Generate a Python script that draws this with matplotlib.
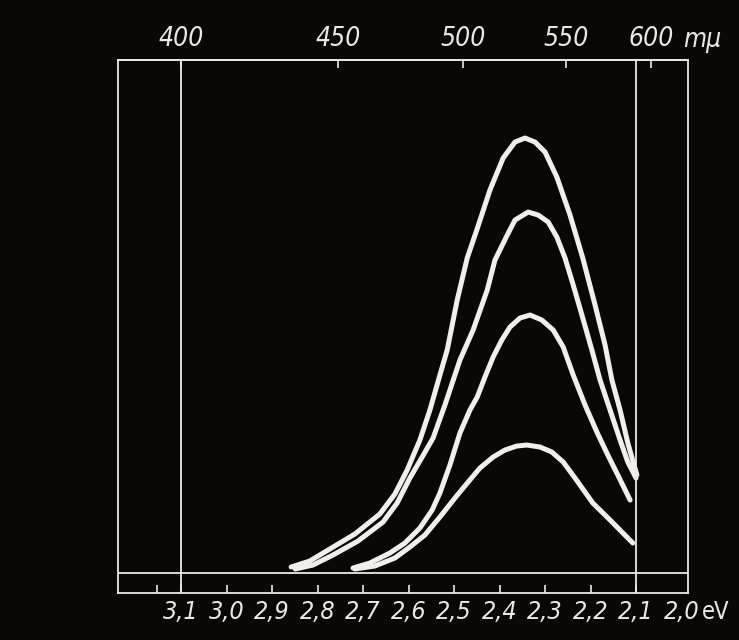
import numpy as np
import matplotlib
matplotlib.use("Agg")
import matplotlib.pyplot as plt

# photon energy (eV) and intensity (arb. units), four emission curves
e1 = [2.858, 2.817, 2.773, 2.718, 2.663, 2.630, 2.603, 2.575, 2.553, 2.531, 2.515,
      2.493, 2.471, 2.450, 2.421, 2.392, 2.366, 2.344, 2.322, 2.300, 2.274, 2.245,
      2.217, 2.190, 2.168, 2.153, 2.135, 2.118, 2.098]
i1 = [0.06, 0.12, 0.24, 0.39, 0.59, 0.79, 1.03, 1.33, 1.63, 1.98, 2.23,
      2.73, 3.15, 3.43, 3.83, 4.15, 4.31, 4.35, 4.31, 4.21, 3.96, 3.58,
      3.15, 2.68, 2.28, 1.93, 1.63, 1.30, 0.98]

e2 = [2.849, 2.810, 2.766, 2.711, 2.656, 2.625, 2.597, 2.570, 2.546, 2.520, 2.498,
      2.487, 2.458, 2.427, 2.410, 2.383, 2.366, 2.337, 2.315, 2.293, 2.274, 2.256,
      2.238, 2.217, 2.197, 2.179, 2.157, 2.135, 2.118, 2.100]
i2 = [0.04, 0.08, 0.18, 0.32, 0.51, 0.70, 0.95, 1.16, 1.35, 1.68, 1.98,
      2.13, 2.43, 2.83, 3.13, 3.38, 3.53, 3.61, 3.58, 3.51, 3.36, 3.15,
      2.88, 2.55, 2.23, 1.93, 1.63, 1.33, 1.11, 0.95]

e3 = [2.722, 2.685, 2.641, 2.608, 2.575, 2.548, 2.531, 2.509, 2.487, 2.465, 2.449,
      2.432, 2.414, 2.395, 2.377, 2.355, 2.333, 2.307, 2.282, 2.260, 2.238, 2.212,
      2.186, 2.162, 2.140, 2.113]
i3 = [0.05, 0.10, 0.20, 0.30, 0.45, 0.63, 0.80, 1.08, 1.40, 1.63, 1.76,
      1.96, 2.16, 2.33, 2.46, 2.55, 2.58, 2.53, 2.43, 2.26, 1.98, 1.68,
      1.41, 1.18, 0.98, 0.73]

e4 = [2.718, 2.674, 2.630, 2.597, 2.564, 2.531, 2.498, 2.469, 2.443, 2.414, 2.388,
      2.362, 2.340, 2.311, 2.285, 2.260, 2.234, 2.195, 2.157, 2.131, 2.107]
i4 = [0.04, 0.07, 0.15, 0.26, 0.38, 0.56, 0.75, 0.91, 1.05, 1.16, 1.23,
      1.27, 1.28, 1.26, 1.21, 1.11, 0.95, 0.70, 0.53, 0.41, 0.30]

ev_ticks = [3.1, 3.0, 2.9, 2.8, 2.7, 2.6, 2.5, 2.4, 2.3, 2.2, 2.1]
ev_labels = ["3,1", "3,0", "2,9", "2,8", "2,7", "2,6", "2,5", "2,4", "2,3", "2,2", "2,1"]
nm_ticks = [400, 450, 500, 550, 600]
nm_labels = ["400", "450", "500", "550", "600"]

bg = "#0a0706"
fg = "#ece8e2"
hand = dict(fontstyle="italic", fontstretch="condensed", family="DejaVu Sans")

fig = plt.figure(figsize=(7.39, 6.4), dpi=100, facecolor=bg)
ax = fig.add_axes([0.1597, 0.0734, 0.7713, 0.8328], facecolor=bg)

for e, i in [(e1, i1), (e2, i2), (e3, i3), (e4, i4)]:
    ax.plot(e, i, color="#f2efea", lw=3.6, solid_capstyle="round", solid_joinstyle="round")

ax.axhline(0, color=fg, lw=1.3)
ax.axvline(3.1, color=fg, lw=1.3)
ax.axvline(2.1, color=fg, lw=1.3)

ax.set_xlim(3.2385, 1.9857)
ax.set_ylim(-0.2, 5.13)
ax.set_yticks([])
for s in ax.spines.values():
    s.set_color(fg)
    s.set_linewidth(1.3)

ax.set_xticks(ev_ticks, ev_labels)
ax.set_xticks([3.153], minor=True)
ax.tick_params(axis="x", which="both", direction="in", length=6, width=1.2,
               color=fg, labelcolor=fg, labelsize=18, pad=5)
for t in ax.get_xticklabels():
    t.set(**hand)

ax.text(2.0, -0.013, "2,0", transform=ax.get_xaxis_transform(), ha="center", va="top",
        color=fg, fontsize=18, **hand)
ax.text(1.955, -0.013, "eV", transform=ax.get_xaxis_transform(), ha="left", va="top",
        color=fg, fontsize=17, fontstretch="condensed")

def ev_to_nm(x):
    x = np.asarray(x, dtype=float)
    with np.errstate(divide="ignore"):
        return 1239.8 / x

top = ax.secondary_xaxis("top", functions=(ev_to_nm, ev_to_nm))
top.set_xticks(nm_ticks, nm_labels)
top.tick_params(direction="in", length=6, width=1.2, color=fg, labelcolor=fg,
                labelsize=19, pad=6)
top.spines["top"].set_color(fg)
top.spines["top"].set_linewidth(1.3)
for t in top.get_xticklabels():
    t.set(**hand)

ax.text(1.997, 1.014, "m\u03bc", transform=ax.get_xaxis_transform(), ha="left", va="bottom",
        color=fg, fontsize=19, **hand)

fig.savefig("out.png", dpi=100, facecolor=bg)
